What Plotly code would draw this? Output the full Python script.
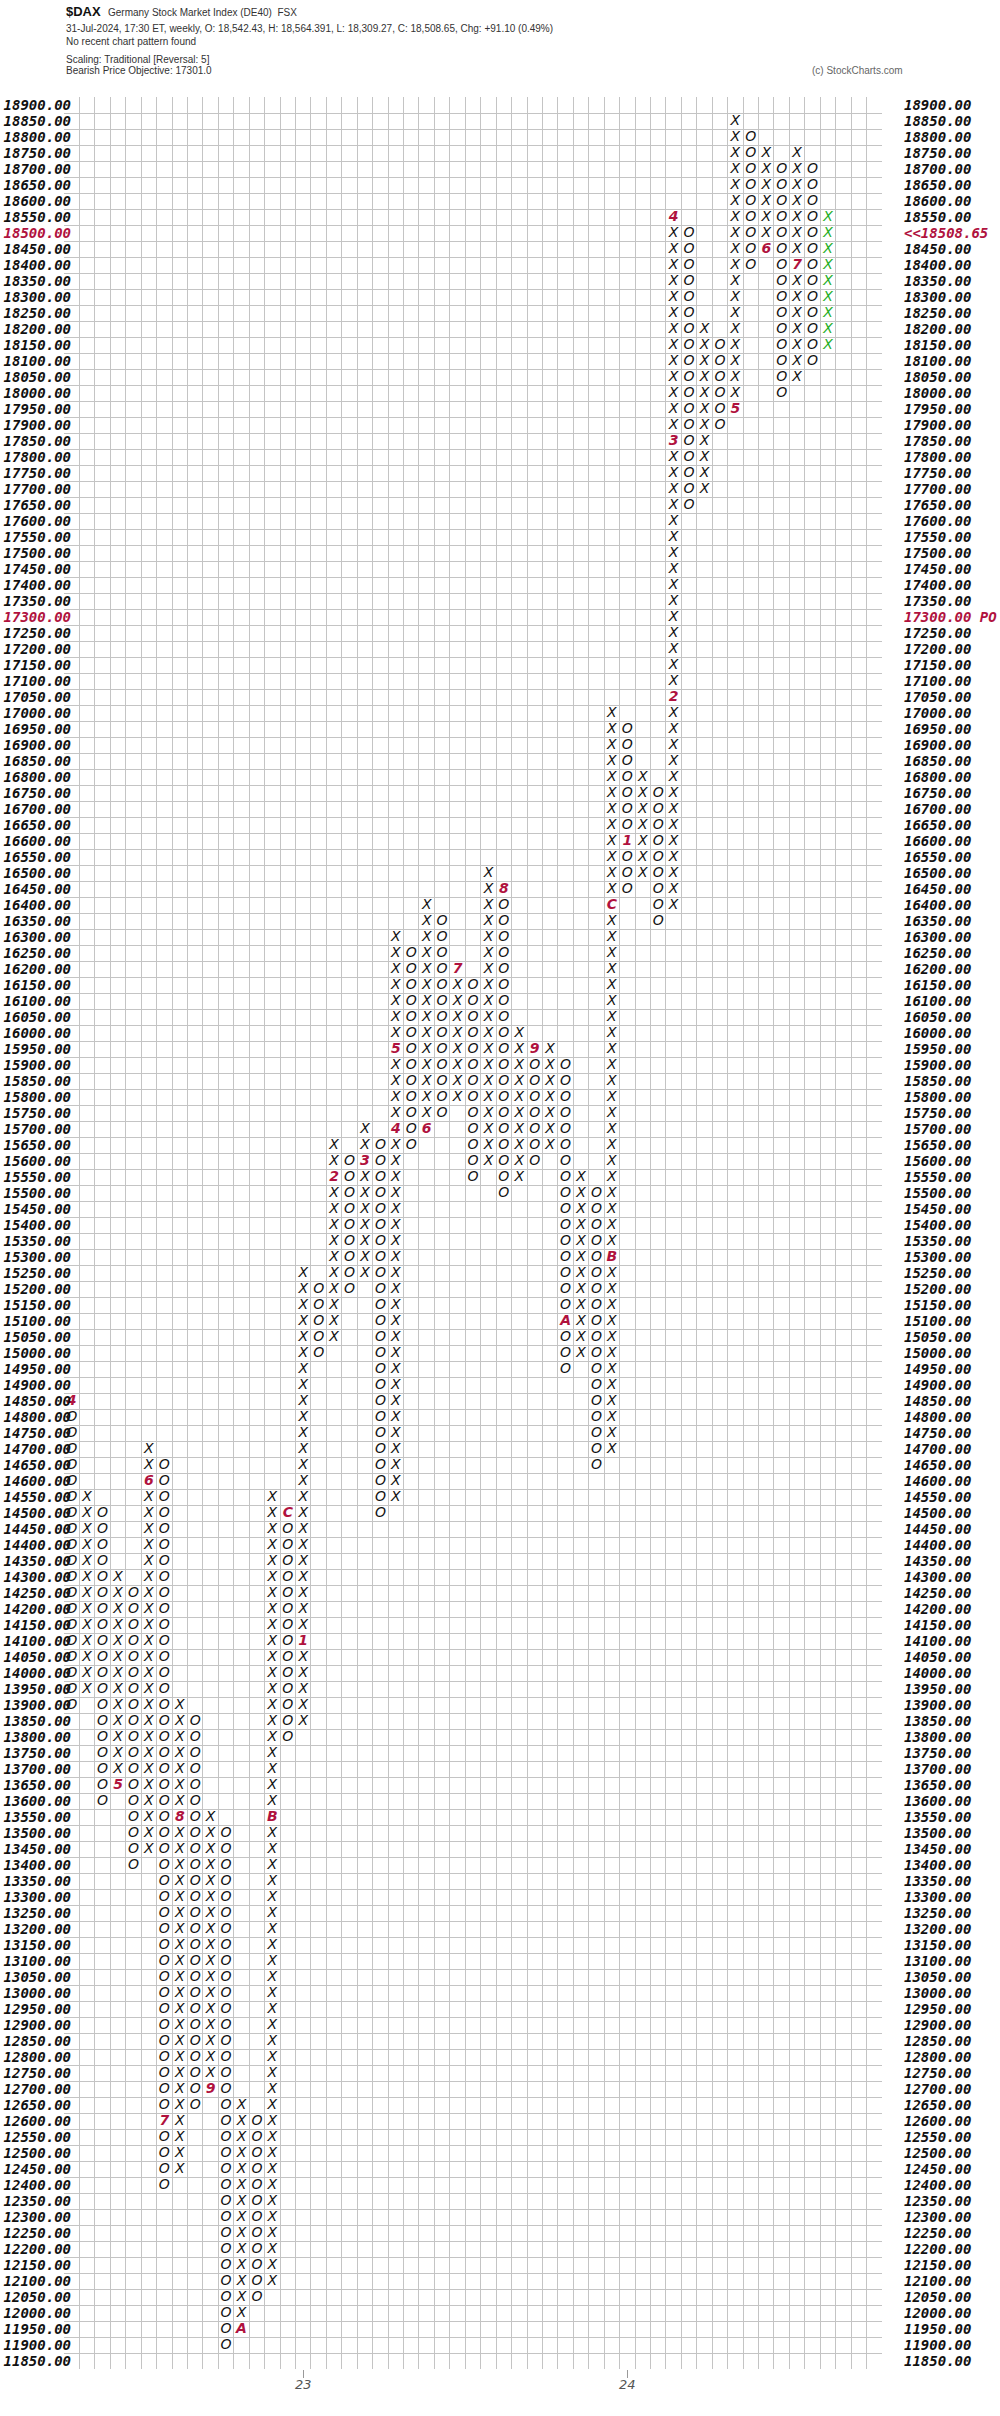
import plotly.graph_objects as go

# ---------------- data ----------------
BOX = 50
col_types = ["O", "X"] * 25
col_lows = [13900, 13950, 13600, 13650, 13400, 13450, 12400, 12450, 12650, 12700,
            11900, 11950, 12050, 12100, 13800, 13850, 15000, 15050, 15200, 15250,
            14500, 14550, 15650, 15700, 15750, 15800, 15550, 15600, 15500, 15550,
            15600, 15650, 14950, 15000, 14650, 14700, 16450, 16500, 16350, 16400,
            17650, 17700, 17900, 17950, 18400, 18450, 18000, 18050, 18100, 18150]
col_highs = [14850, 14550, 14500, 14300, 14250, 14700, 14650, 13900, 13850, 13550,
             13500, 12650, 12600, 14550, 14500, 15250, 15200, 15650, 15600, 15700,
             15650, 16300, 16250, 16400, 16350, 16200, 16150, 16500, 16450, 16000,
             15950, 15950, 15900, 15550, 15500, 17000, 16950, 16800, 16750, 18550,
             18500, 18200, 18150, 18850, 18800, 18750, 18700, 18750, 18700, 18550]

marker_cols = [0, 3, 5, 6, 7, 9, 11, 13, 14, 15, 17, 19, 21, 21, 23, 25, 28, 30, 32, 35,
               35, 36, 39, 39, 39, 43, 45, 47]
marker_prices = [14850, 13650, 14600, 12600, 13550, 12700, 11950, 13550, 14500, 14100,
                 15550, 15600, 15700, 15950, 15700, 16200, 16450, 15950, 15100, 15300,
                 16400, 16600, 17050, 17850, 18550, 17950, 18450, 18400]
marker_labels = ["4", "5", "6", "7", "8", "9", "A", "B", "C", "1", "2", "3", "4", "5", "6",
                 "7", "8", "9", "A", "B", "C", "1", "2", "3", "4", "5", "6", "7"]

year_tick_cols = [15, 36]
year_labels = ["23", "24"]

price_min, price_max = 11850, 18900
n_cols_total = 53
last_price = 18508.65
last_price_level = 18500
objective_level = 17300

# ---------------- build marks ----------------
markers = {(c, p): l for c, p, l in zip(marker_cols, marker_prices, marker_labels)}
last_col = len(col_types) - 1
xs_x, ys_x, xs_o, ys_o, xs_g, ys_g = [], [], [], [], [], []
for c, (t, lo, hi) in enumerate(zip(col_types, col_lows, col_highs)):
    for p in range(lo, hi + BOX, BOX):
        if (c, p) in markers:
            continue
        if c == last_col:
            xs_g.append(c); ys_g.append(p)
        elif t == "X":
            xs_x.append(c); ys_x.append(p)
        else:
            xs_o.append(c); ys_o.append(p)

RED = "#b0123e"
GREEN = "#1fae1f"
glyph_font = dict(family="DejaVu Sans", size=14, style="italic", color="#111111")

fig = go.Figure()
fig.add_trace(go.Scatter(x=xs_x, y=ys_x, mode="text", text=["X"] * len(xs_x),
                         textfont=glyph_font, hoverinfo="skip", showlegend=False))
fig.add_trace(go.Scatter(x=xs_o, y=ys_o, mode="text", text=["O"] * len(xs_o),
                         textfont=glyph_font, hoverinfo="skip", showlegend=False))
fig.add_trace(go.Scatter(x=xs_g, y=ys_g, mode="text", text=["X"] * len(xs_g),
                         textfont=dict(glyph_font, color=GREEN), hoverinfo="skip", showlegend=False))
fig.add_trace(go.Scatter(x=marker_cols, y=marker_prices, mode="text", text=marker_labels,
                         textfont=dict(family="DejaVu Sans", size=14, style="italic",
                                       weight="bold", color=RED),
                         hoverinfo="skip", showlegend=False))

levels = list(range(price_min, price_max + BOX, BOX))
left_text, right_text = [], []
for p in levels:
    s = f"{p:.2f}"
    if p == last_price_level:
        left_text.append(f"<span style='color:{RED}'>{s}</span>")
        right_text.append(f"<span style='color:{RED}'>&lt;&lt;{last_price:.2f}</span>")
    elif p == objective_level:
        left_text.append(f"<span style='color:{RED}'>{s}</span>")
        right_text.append(f"<span style='color:{RED}'>{s} PO</span>")
    else:
        left_text.append(s)
        right_text.append(s)

fig.add_trace(go.Scatter(x=[None] * len(levels), y=levels, yaxis="y2", mode="markers",
                         hoverinfo="skip", showlegend=False))

W, H = 1000, 2416
L, R, T, B = 64, 118, 97, 47
plot_h = H - T - B
plot_w = W - L - R

label_font = dict(family="DejaVu Sans Mono", size=14, style="italic", weight="bold",
                  color="#111111")
grid = "#c4c4c4"
yr = [price_min - BOX / 2, price_max + BOX / 2]
ybounds = [price_min - BOX / 2 + BOX * k for k in range(len(levels) + 1)]
xbounds = [-0.5 + k for k in range(n_cols_total + 1)]

fig.update_layout(
    width=W, height=H, margin=dict(l=L, r=R, t=T, b=B, pad=0),
    paper_bgcolor="white", plot_bgcolor="white",
    xaxis=dict(range=[-0.5, n_cols_total - 0.5], tickmode="array", automargin=False,
               tickvals=year_tick_cols, ticktext=year_labels,
               ticks="outside", ticklen=8, tickcolor="#999999",
               ticklabelstandoff=-5,
               tickfont=dict(family="DejaVu Sans", size=13, style="italic", color="#555555"),
               showgrid=False, zeroline=False, showline=False,
               minor=dict(tickmode="array", tickvals=xbounds, showgrid=True,
                          gridcolor=grid, gridwidth=1, ticks="")),
    yaxis=dict(range=yr, tickmode="array", tickvals=levels, ticktext=left_text,
               automargin=False,
               tickfont=label_font, ticks="", showgrid=False, zeroline=False,
               showline=False, ticklabelstandoff=-8,
               minor=dict(tickmode="array", tickvals=ybounds, showgrid=True,
                          gridcolor=grid, gridwidth=1, ticks="")),
    yaxis2=dict(range=yr, overlaying="y", side="right", tickmode="array",
                automargin=False,
                tickvals=levels, ticktext=right_text, tickfont=label_font,
                ticks="", showgrid=False, zeroline=False, showline=False,
                ticklabelstandoff=21),
)

def py(pix):
    return (H - B - pix) / plot_h

def px(pix):
    return (pix - L) / plot_w

head = dict(family="Liberation Sans", size=10, color="#333333")
anns = [
    dict(x=px(64), y=py(12), text="<b>$DAX</b>", font=dict(family="Liberation Sans", size=13, color="#111111")),
    dict(x=px(106), y=py(13), text="Germany Stock Market Index (DE40)  FSX", font=head),
    dict(x=px(64), y=py(29), text="31-Jul-2024, 17:30 ET, weekly, O: 18,542.43, H: 18,564.391, L: 18,309.27, C: 18,508.65, Chg: +91.10 (0.49%)", font=head),
    dict(x=px(64), y=py(42), text="No recent chart pattern found", font=head),
    dict(x=px(64), y=py(60), text="Scaling: Traditional [Reversal: 5]", font=head),
    dict(x=px(64), y=py(71), text="Bearish Price Objective: 17301.0", font=head),
    dict(x=px(810), y=py(71), text="(c) StockCharts.com", font=dict(family="Liberation Sans", size=10, color="#666666")),
]
for a in anns:
    a.update(xref="paper", yref="paper", xanchor="left", yanchor="middle", showarrow=False)
fig.update_layout(annotations=anns)

fig.write_html("out.html", config={"displayModeBar": False},
               post_script="document.body.style.margin='0';")
